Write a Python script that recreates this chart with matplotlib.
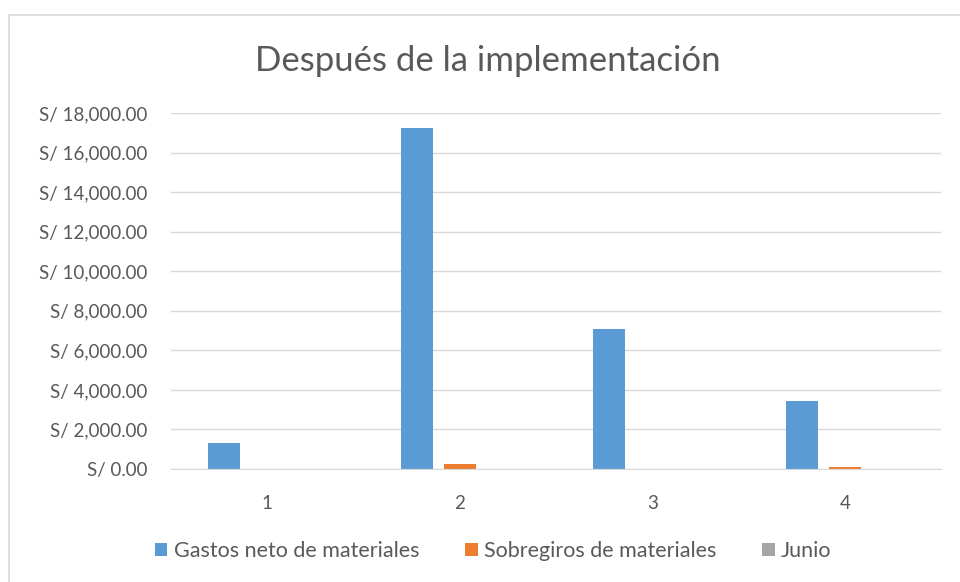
import matplotlib.pyplot as plt
import numpy as np
from matplotlib.patches import Rectangle
from matplotlib.ticker import FuncFormatter

plt.rcParams['font.family'] = ['Lato', 'DejaVu Sans']

# Data
categorias = ['1', '2', '3', '4']
gastos_neto = [1330, 17240, 7100, 3450]
sobregiros = [0, 230, 0, 120]
junio = [0, 0, 0, 0]

series = [
    ('Gastos neto de materiales', gastos_neto, '#5B9BD5'),
    ('Sobregiros de materiales', sobregiros, '#ED7D31'),
    ('Junio', junio, '#A5A5A5'),
]

texto = '#595959'

fig = plt.figure(figsize=(9.6, 5.82), dpi=100)
# light chart border
fig.patches.append(Rectangle((9 / 960, -0.1), 1.2, 1 - 15 / 582 + 0.1,
                             transform=fig.transFigure, fill=False,
                             edgecolor='#D9D9D9', linewidth=1.2))

ax = fig.add_axes([171 / 960, 113 / 582, 770 / 960, 356 / 582])

x = np.arange(len(categorias))
ancho = 0.167
paso = 0.224
for i, (nombre, valores, color) in enumerate(series):
    ax.bar(x + (i - 1) * paso, valores, width=ancho, color=color, label=nombre)

ax.set_xlim(-0.5, len(categorias) - 0.5)
ax.set_ylim(0, 18000)
ax.set_yticks(np.arange(0, 18001, 2000))
ax.yaxis.set_major_formatter(FuncFormatter(lambda v, p: f'S/ {v:,.2f}'))
ax.set_xticks(x)
ax.set_xticklabels(categorias)

ax.grid(axis='y', color='#D9D9D9', linewidth=1)
ax.set_axisbelow(True)
for lado in ['top', 'right', 'left']:
    ax.spines[lado].set_visible(False)
ax.spines['bottom'].set_color('#D9D9D9')
ax.tick_params(axis='both', length=0, labelsize=13.5, colors=texto)
ax.tick_params(axis='x', pad=19)
ax.tick_params(axis='y', pad=17)

fig.text(488 / 960, 1 - 61 / 582, 'Después de la implementación', ha='center', va='center',
         fontsize=25, color=texto)

fig.legend(loc='center', bbox_to_anchor=(493 / 960, 1 - 551 / 582), ncol=3, frameon=False,
           fontsize=15.5, labelcolor=texto, handlelength=0.6, handleheight=0.6,
           handletextpad=0.3, columnspacing=2.1)

plt.savefig('out.png', dpi=100)
